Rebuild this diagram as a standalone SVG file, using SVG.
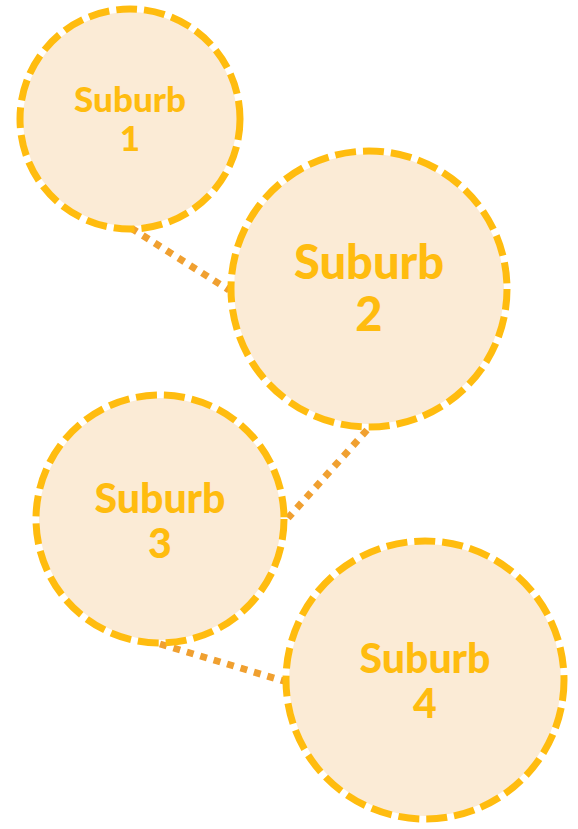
<svg xmlns="http://www.w3.org/2000/svg" width="578" height="829" viewBox="0 0 578 829">
<style>
.fill{fill:#FBEBD6;stroke:none}
.ring{fill:none;stroke:#FFBC0F;stroke-width:7;stroke-dasharray:21 7}
.lbl{fill:#FFBC0F;font-family:Lato,"Open Sans",sans-serif;font-weight:900;text-anchor:middle}
.conn{stroke:#F0A030;stroke-width:7;stroke-dasharray:7 7;fill:none}
</style>
<rect width="578" height="829" fill="#FFFFFF"/>
<g id="connectors">
<line class="conn" x1="131" y1="228" x2="229" y2="290"/>
<line class="conn" x1="367" y1="430" x2="288" y2="518"/>
<line class="conn" x1="160" y1="644" x2="284" y2="681"/>
</g>
<g id="suburb1">
<circle class="fill" cx="130" cy="119" r="107"/>
<circle class="ring" cx="130" cy="119" r="110"/>
<text class="lbl" x="130" y="112" font-size="35">Suburb</text>
<text class="lbl" x="130" y="151" font-size="35">1</text>
</g>
<g id="suburb2">
<circle class="fill" cx="369" cy="289" r="135"/>
<circle class="ring" cx="369" cy="289" r="138"/>
<text class="lbl" x="369" y="279" font-size="47">Suburb</text>
<text class="lbl" x="369" y="331" font-size="47">2</text>
</g>
<g id="suburb3">
<circle class="fill" cx="160" cy="519" r="121"/>
<circle class="ring" cx="160" cy="519" r="124"/>
<text class="lbl" x="160" y="513" font-size="41">Suburb</text>
<text class="lbl" x="160" y="558" font-size="41">3</text>
</g>
<g id="suburb4">
<circle class="fill" cx="425" cy="680" r="136"/>
<circle class="ring" cx="425" cy="680" r="139"/>
<text class="lbl" x="425" y="673" font-size="41">Suburb</text>
<text class="lbl" x="425" y="718" font-size="41">4</text>
</g>
</svg>
